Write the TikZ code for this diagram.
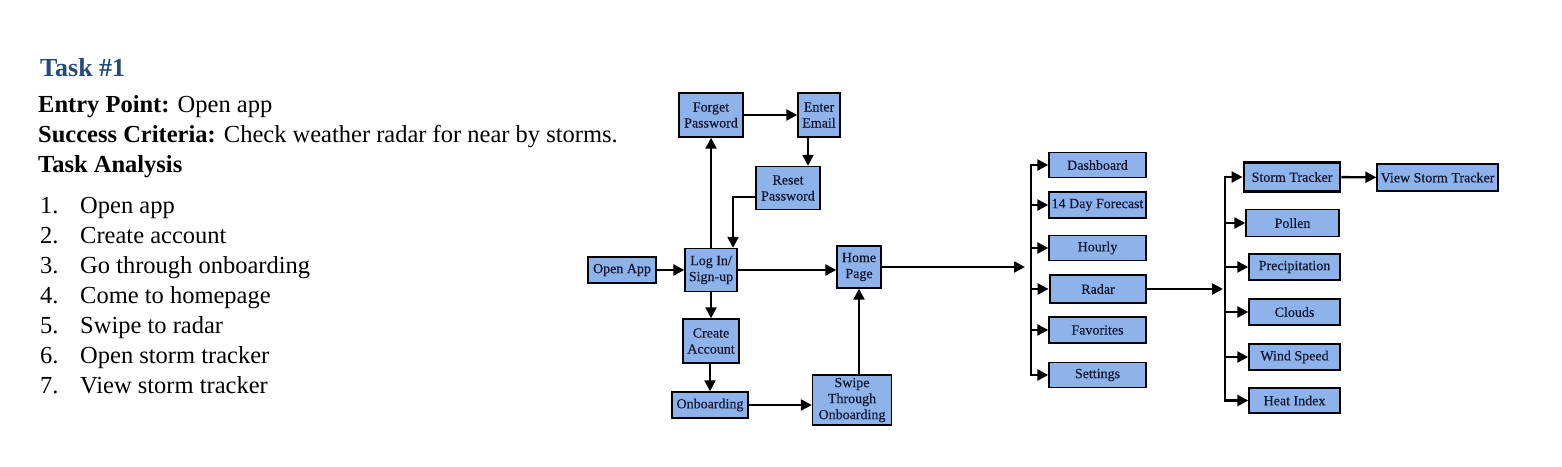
\documentclass[tikz,border=0pt]{standalone}
\usepackage{fontspec}
\setmainfont{Liberation Serif}
\newfontfamily\boxfont[FakeBold=0.35]{Liberation Serif}
\usetikzlibrary{arrows.meta,calc}
\definecolor{boxfill}{HTML}{8DB3EA}
\definecolor{boxtext}{HTML}{111530}
\definecolor{headblue}{HTML}{234A7D}
\tikzset{
  box/.style={draw=black, line width=1.4pt, fill=boxfill, text=boxtext, font=\boxfont\fontsize{14}{16}\selectfont, align=center, inner sep=0pt, anchor=center},
  hbox/.style={box, line width=2.8pt},
  arr/.style={line width=2.4pt, -{Triangle[length=11pt,width=11pt]}},
  bus/.style={line width=2.4pt},
  body/.style={anchor=base west, inner sep=0pt, font=\fontsize{24.5}{28}\selectfont},
}
\begin{document}
\begin{tikzpicture}[x=1pt,y=-1pt]
\path[use as bounding box, fill=white] (0,0) rectangle (1562,466);
% left text
\node[body, text=headblue, font=\fontsize{26}{30}\selectfont\bfseries] (title) at (40,76) {Task \#1};
\node[body] (entry) at (38,112) {\textbf{Entry Point:} Open app};
\node[body] (succ) at (38,142) {\textbf{Success Criteria:} Check weather radar for near by storms.};
\node[body] (ta) at (38,172) {\textbf{Task Analysis}};
\foreach \i/\t [count=\k] in {1/Open app,2/Create account,3/Go through onboarding,4/Come to homepage,5/Swipe to radar,6/Open storm tracker,7/View storm tracker}{
  \node[body] (n\k) at (40,{213+30*(\k-1)}) {\i.};
  \node[body] (t\k) at (80,{213+30*(\k-1)}) {\t};
}
% flow boxes
\node[box, minimum width=64pt, minimum height=44pt] (forget) at (711,115) {Forget\\Password};
\node[box, minimum width=42pt, minimum height=44pt] (email) at (819,115) {Enter\\Email};
\node[box, minimum width=64pt, minimum height=43pt] (reset) at (788,188) {Reset\\Password};
\node[box, minimum width=68pt, minimum height=26pt] (open) at (622,270) {Open App};
\node[box, minimum width=52pt, minimum height=43pt] (login) at (711,270) {Log In/\\Sign-up};
\node[box, minimum width=44pt, minimum height=42pt] (home) at (859,267) {Home\\Page};
\node[box, minimum width=56pt, minimum height=44pt] (create) at (711,341) {Create\\Account};
\node[box, minimum width=76pt, minimum height=26pt] (onb) at (710,405) {Onboarding};
\node[box, minimum width=79pt, minimum height=50pt] (swipe) at (852,400) {Swipe\\Through\\Onboarding};
% column 1
\node[box, minimum width=97pt, minimum height=25pt] (dash) at (1097.5,165) {Dashboard};
\node[box, minimum width=97pt, minimum height=26pt] (fore) at (1097.5,205) {14 Day Forecast};
\node[box, minimum width=97pt, minimum height=25pt] (hour) at (1097.5,248) {Hourly};
\node[hbox, minimum width=96pt, minimum height=28pt] (radar) at (1098,289) {Radar};
\node[box, minimum width=97pt, minimum height=26pt] (fav) at (1097.5,330) {Favorites};
\node[box, minimum width=97pt, minimum height=25pt] (set) at (1097.5,375) {Settings};
% column 2
\node[hbox, minimum width=96pt, minimum height=29pt] (storm) at (1292,177) {Storm Tracker};
\node[box, minimum width=93pt, minimum height=27pt] (pollen) at (1292.5,223) {Pollen};
\node[box, minimum width=91pt, minimum height=26pt] (prec) at (1294.5,267) {Precipitation};
\node[box, minimum width=91pt, minimum height=26pt] (cloud) at (1294.5,312) {Clouds};
\node[box, minimum width=91pt, minimum height=26pt] (wind) at (1294.5,357) {Wind Speed};
\node[box, minimum width=91pt, minimum height=25pt] (heat) at (1294.5,400.5) {Heat Index};
\node[box, minimum width=121pt, minimum height=27pt] (view) at (1437.5,177.5) {View Storm Tracker};
% bus coordinates
\coordinate (busA) at (1031,269);
\coordinate (busB) at (1225,289);
% connectors
\draw[arr] (open) -- (login);
\draw[arr] (login) -- (forget);
\draw[arr] (forget) -- (email);
\draw[arr] ([xshift=-11pt]email.south) -- ([xshift=-11pt]email.south |- reset.north);
\draw[arr] ([yshift=-9pt]reset.west) -| ([xshift=22pt]login.north);
\draw[arr] (login.east) -- (login.east -| home.west);
\draw[arr] (login) -- (create);
\draw[arr] (create.south -| onb) -- (onb.north);
\draw[arr] (onb.east) -- (onb.east -| swipe.west);
\draw[arr] (swipe.north -| home) -- (home.south);
\draw[arr] (home.east) -- ([xshift=-6pt]home.east -| busA);
% bus 1
\draw[bus] (dash.west -| busA) -- (set.west -| busA);
\foreach \b in {dash,fore,hour,radar,fav,set}
  \draw[arr] ([xshift=-1.2pt]\b.west -| busA) -- (\b.west);
% radar to bus 2
\draw[arr] (radar.east) -- ([xshift=-2pt]radar.east -| busB);
\draw[bus] (storm.west -| busB) -- (heat.west -| busB);
\foreach \b in {storm,pollen,prec,cloud,wind,heat}
  \draw[arr] ([xshift=-1.2pt]\b.west -| busB) -- (\b.west);
\draw[arr] (storm) -- (view);
\end{tikzpicture}
\end{document}
